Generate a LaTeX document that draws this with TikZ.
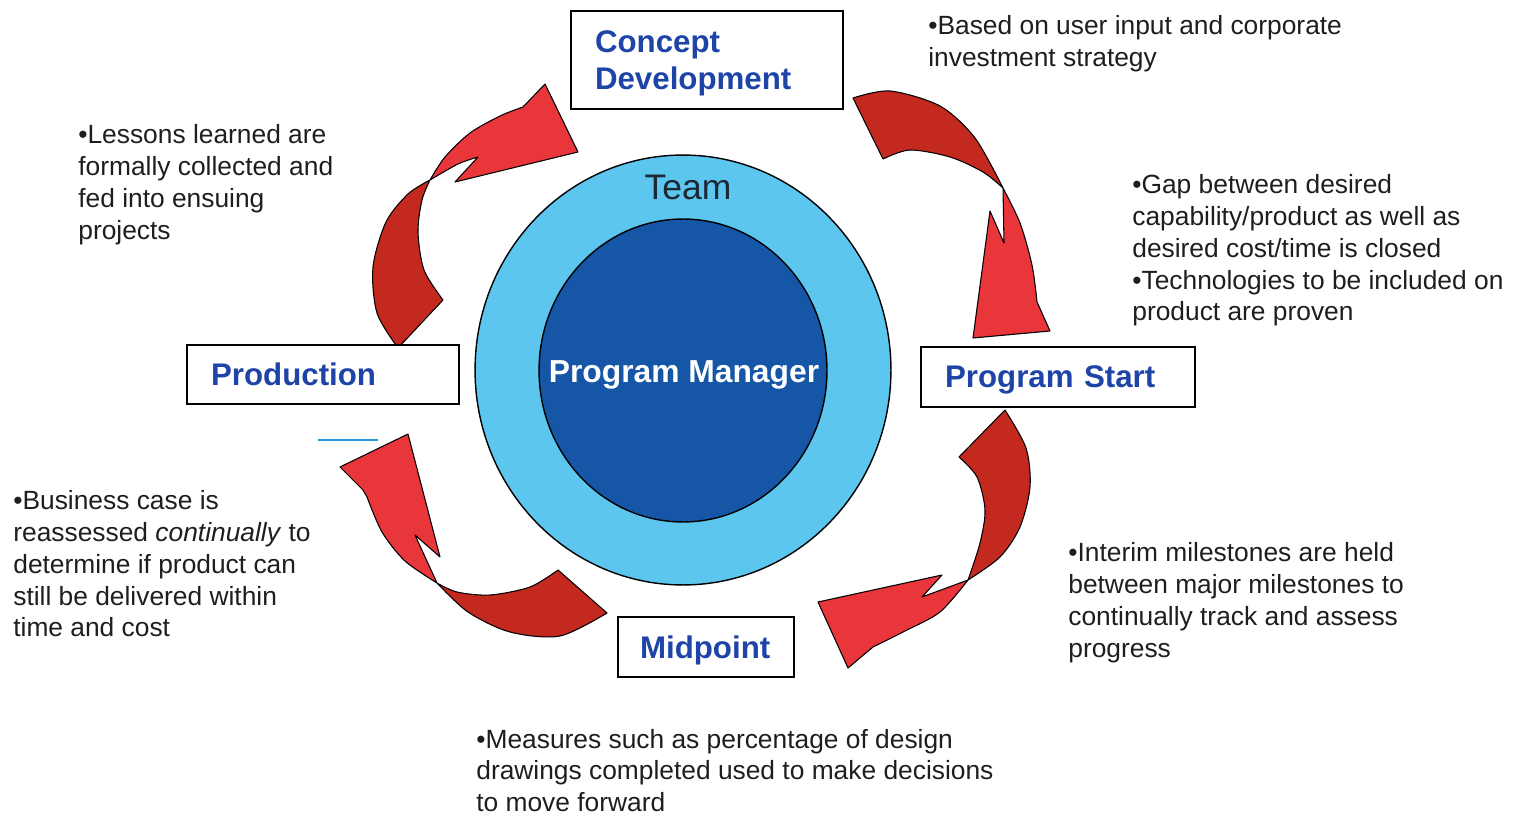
\documentclass[tikz,border=0pt]{standalone}
\usepackage{fontspec}
\setmainfont{Liberation Sans}
\definecolor{arrowdark}{HTML}{C4291F}
\definecolor{arrowbright}{HTML}{E9363B}
\definecolor{teamblue}{HTML}{5CC6EE}
\definecolor{pmblue}{HTML}{1556A7}
\definecolor{labelblue}{HTML}{1F44A8}
\definecolor{teamtext}{HTML}{1C2836}
\definecolor{notegray}{HTML}{1E1E1E}
\definecolor{strayblue}{HTML}{2B9BE0}
\begin{document}
\begin{tikzpicture}[x=0.02cm,y=-0.02cm,
  stagebox/.style={draw=black, line width=1.1pt, fill=white, inner xsep=0.48cm,
    inner ysep=0pt, align=left, text depth=0pt,
    font=\fontsize{17.8}{21}\selectfont\bfseries, text=labelblue},
  note/.style={anchor=north west, inner sep=0pt, align=left,
    font=\fontsize{15}{18.14}\selectfont, text=notegray},
  tailpart/.style={fill=arrowdark, draw=black, line width=0.6pt, line join=round},
  headpart/.style={fill=arrowbright, draw=black, line width=0.6pt, line join=round}]

\useasboundingbox (0,0) rectangle (1521,814);

% team ring and program manager core
\filldraw[fill=teamblue, draw=black, line width=0.8pt] (683,370) ellipse [x radius=4.16cm, y radius=4.3cm];
\filldraw[fill=pmblue, draw=black, line width=0.8pt] (683,370.5) ellipse [x radius=2.88cm, y radius=3.03cm];
\node[anchor=base, inner sep=0pt, font=\fontsize{20.2}{24}\selectfont, text=teamtext] (teamlbl) at (688,200) {Team};
\node[anchor=base, inner sep=0pt, font=\fontsize{18.1}{21}\selectfont\bfseries, text=white] (pmlbl) at (684,382) {Program Manager};

% short blue stroke left of the ring
\draw[strayblue, line width=1.3pt] (318,440) -- (378,440);

% arrow: concept development -> program start
\path[tailpart] plot[smooth] coordinates {(853,98) (890,91) (940,106) (975,138) (1003,188)}
  -- plot[smooth] coordinates {(1003,188) (983,172) (950,157) (910,150) (883,159)} -- cycle;
\path[headpart] plot[smooth] coordinates {(1003,188) (1020,223) (1032,265) (1037,302)}
  -- (1050,331) -- (973,338) -- (990,211) -- (1004,243) -- cycle;

% arrow: program start -> midpoint
\path[tailpart] plot[smooth] coordinates {(1005,410) (1026,448) (1030,487) (1020,527) (1000,557) (968,580)}
  -- plot[smooth] coordinates {(968,580) (980,543) (985,510) (977,477) (959,457)} -- cycle;
\path[headpart] plot[smooth] coordinates {(968,580) (940,612) (905,631) (873,647)}
  -- (848,668) -- (818,602) -- (942,575) -- (922,597) -- cycle;

% arrow: midpoint -> production
\path[tailpart] plot[smooth] coordinates {(437,583) (468,612) (510,632) (560,636) (607,613)}
  -- plot[smooth] coordinates {(558,570) (530,587) (490,595) (457,592) (437,583)} -- cycle;
\path[headpart] plot[smooth] coordinates {(437,583) (405,561) (382,532) (367,497)}
  -- (363,490) -- (340,467) -- (408,434) -- (440,557) -- (415,535) -- cycle;

% arrow: production -> concept development
\path[tailpart] plot[smooth] coordinates {(398,348) (377,313) (373,267) (386,222) (408,194) (430,180)}
  -- plot[smooth] coordinates {(430,180) (422,200) (418,232) (424,270) (443,300)} -- cycle;
\path[headpart] plot[smooth] coordinates {(430,180) (445,157) (470,133) (500,116) (523,107)}
  -- (545,84) -- (578,152) -- (455,182)
  -- plot[smooth] coordinates {(478,157) (458,164) (430,180)} -- cycle;

% stage boxes
\node[stagebox, minimum height=1.96cm, text width=4.48cm, text depth=0.74cm] (cd) at (707,60) {Concept\\Development};
\node[stagebox, minimum height=1.2cm, text width=4.52cm] (ps) at (1058,377) {Program Start};
\node[stagebox, minimum height=1.18cm, text width=4.48cm] (pr) at (323,374.5) {Production};
\node[stagebox, minimum height=1.2cm, text width=2.64cm, inner xsep=0.44cm] (mp) at (706,647) {Midpoint};

% notes
\node[note] (n1) at (928,15) {•Based on user input and corporate\\investment strategy};
\node[note] (n2) at (1132,174) {•Gap between desired\\capability/product as well as\\desired cost/time is closed\\•Technologies to be included on\\product are proven};
\node[note] (n3) at (78,124) {•Lessons learned are\\formally collected and\\fed into ensuing\\projects};
\node[note] (n4) at (13,490) {•Business case is\\reassessed \textit{continually} to\\determine if product can\\still be delivered within\\time and cost};
\node[note] (n5) at (1068,542) {•Interim milestones are held\\between major milestones to\\continually track and assess\\progress};
\node[note, font=\fontsize{15}{17.85}\selectfont] (n6) at (476,729) {•Measures such as percentage of design\\drawings completed used to make decisions\\to move forward};
\end{tikzpicture}
\end{document}
